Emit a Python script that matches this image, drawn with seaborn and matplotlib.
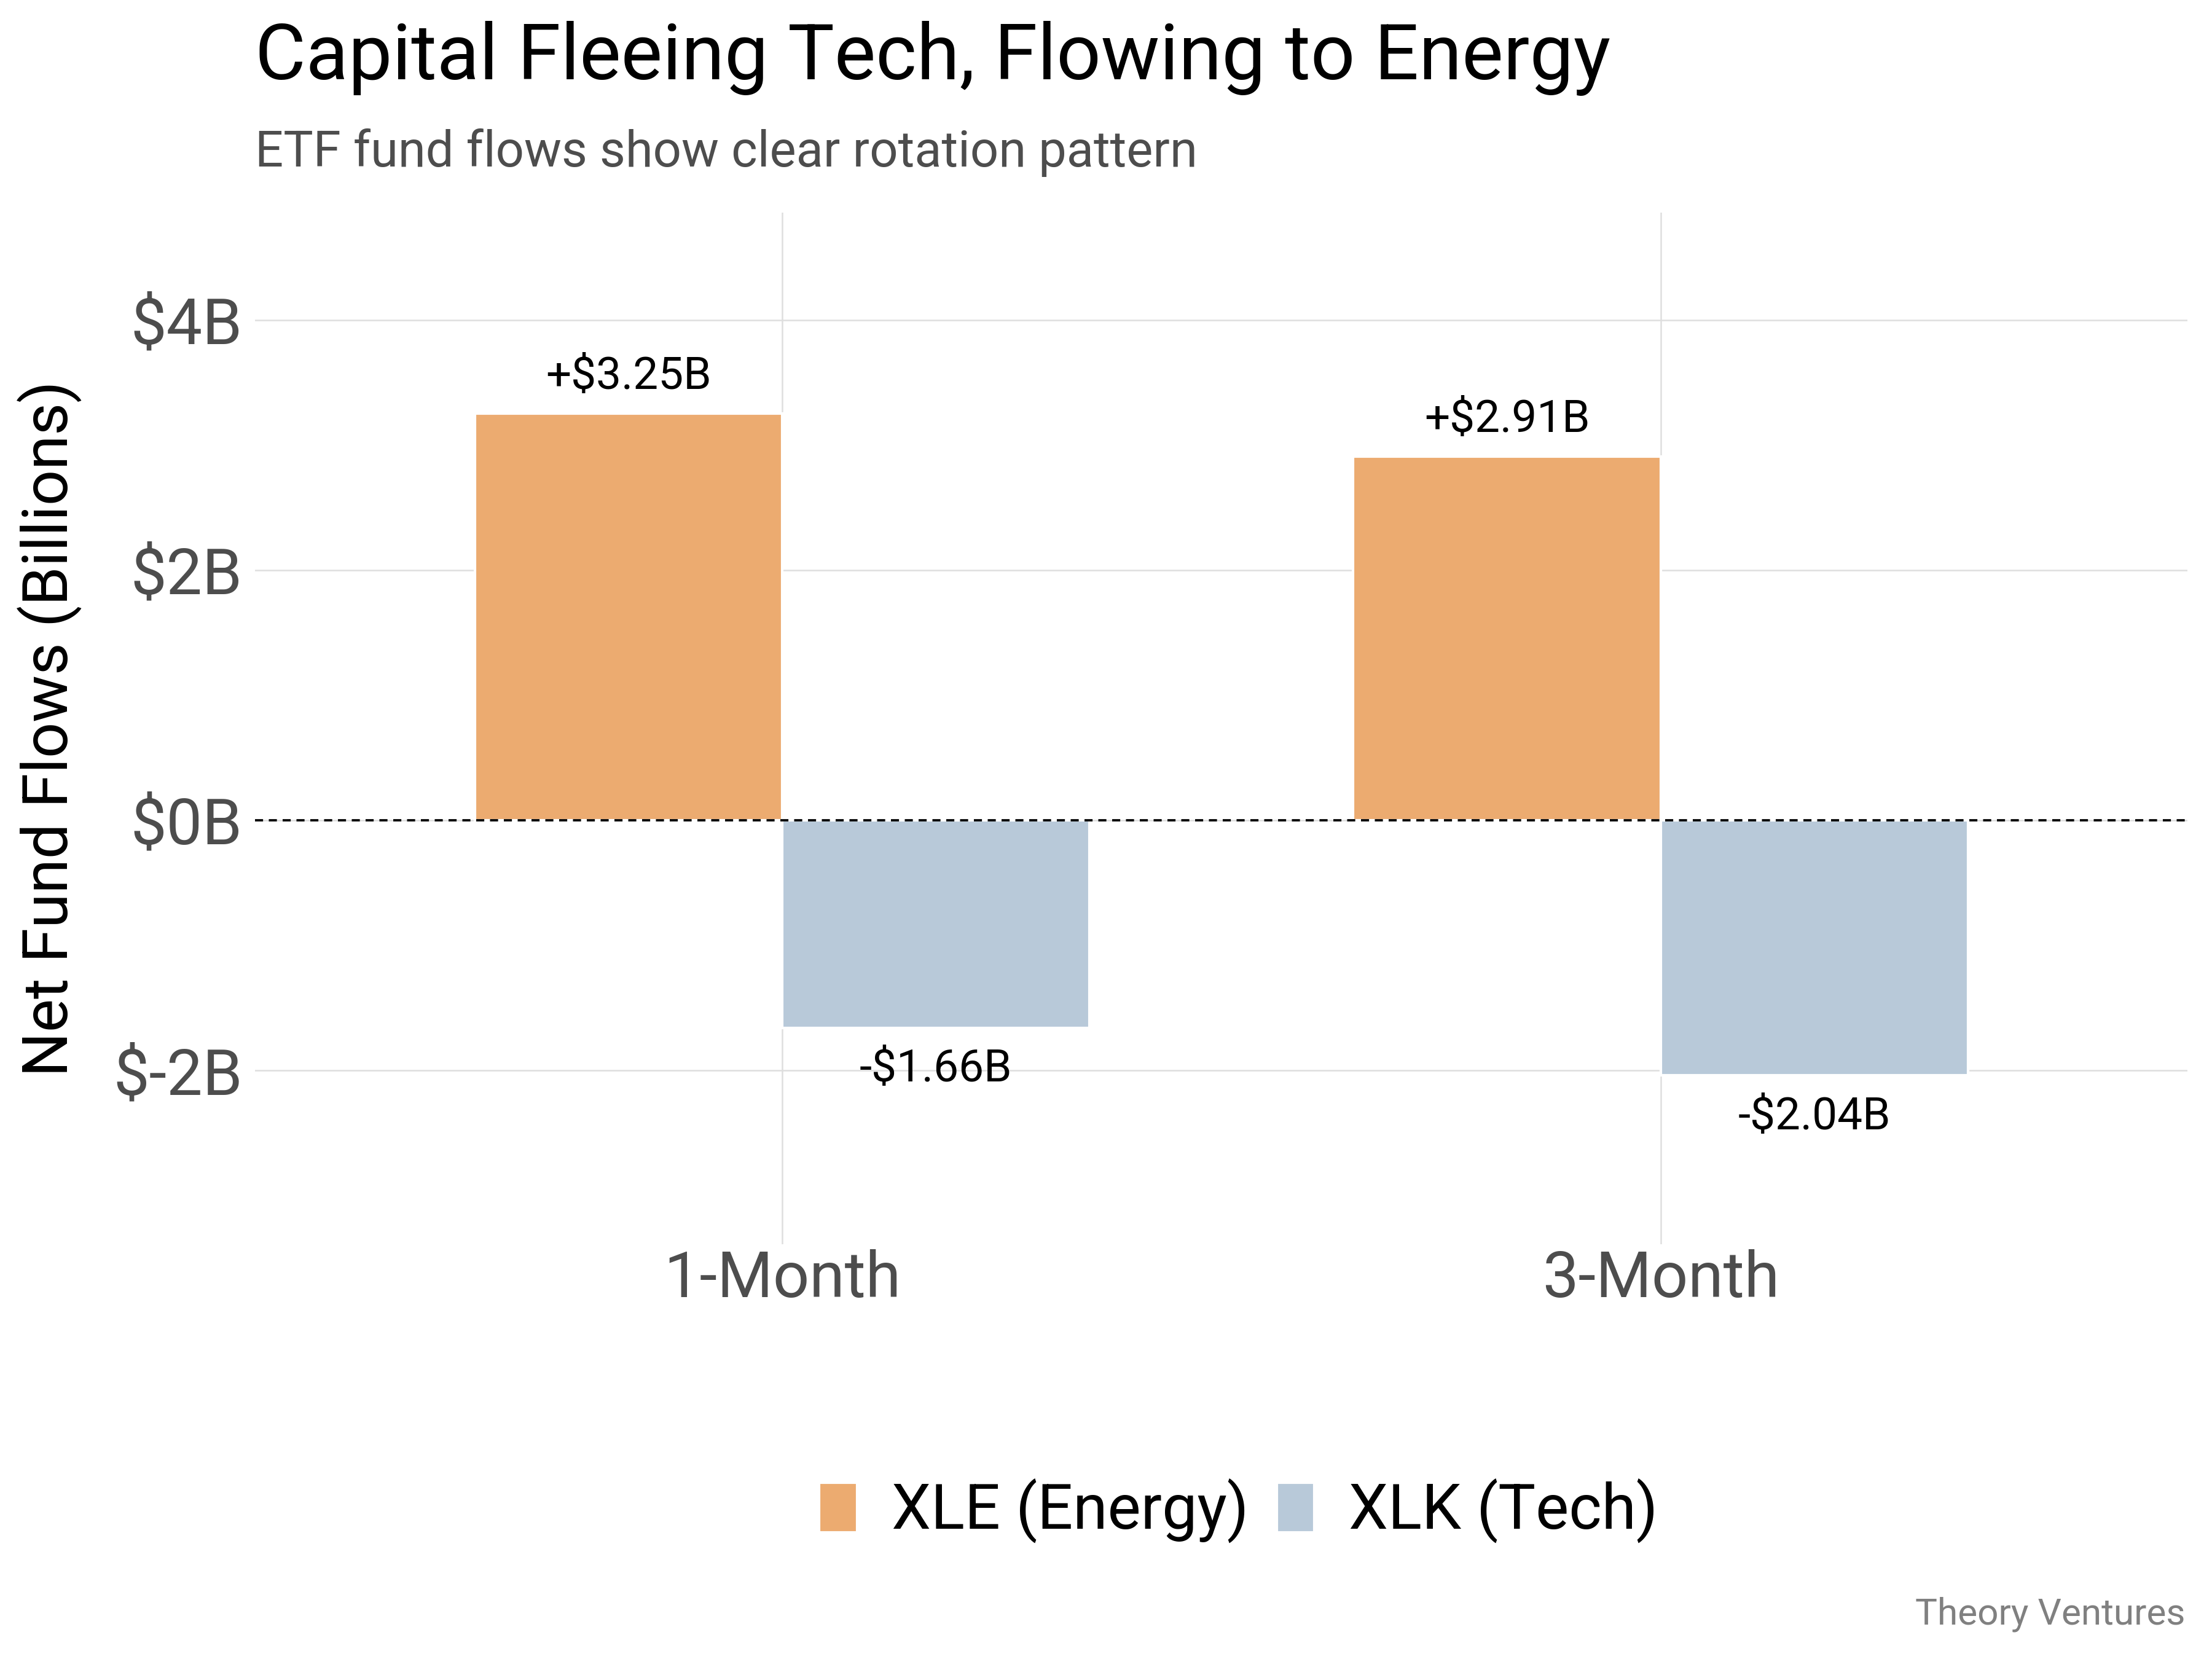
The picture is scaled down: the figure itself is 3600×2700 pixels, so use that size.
import pandas as pd
import matplotlib.pyplot as plt
import seaborn as sns

periods = ["1-Month", "3-Month"]
funds = ["XLE (Energy)", "XLK (Tech)"]
xle_flows = [3.25, 2.91]
xlk_flows = [-1.66, -2.04]
y_ticks = [-2, 0, 2, 4]

colors = ["#ECAB70", "#B8C9D9"]

data = pd.DataFrame({
    "period": periods * 2,
    "fund": [funds[0]] * len(periods) + [funds[1]] * len(periods),
    "flow": xle_flows + xlk_flows,
})

sns.set_theme(style="whitegrid")
plt.rcParams["font.family"] = ["Roboto", "DejaVu Sans"]

fig = plt.figure(figsize=(12, 9), dpi=300)
ax = fig.add_axes([0.1154, 0.250, 0.8736, 0.622])

sns.barplot(
    data=data,
    x="period",
    y="flow",
    hue="fund",
    hue_order=funds,
    palette=colors,
    width=0.7,
    gap=0,
    saturation=1,
    errorbar=None,
    ax=ax,
)

ax.set_xlim(-0.6, 1.6)
ax.set_ylim(-3.39, 4.86)
ax.set_yticks(y_ticks)
ax.set_yticklabels([f"${v}B" for v in y_ticks])
ax.tick_params(axis="both", length=0, labelsize=25, labelcolor="#4d4d4d")
ax.tick_params(axis="x", pad=2)
ax.tick_params(axis="y", pad=5)
ax.grid(True, color="#dedede", linewidth=0.6)
ax.set_axisbelow(True)
for s in ax.spines.values():
    s.set_visible(False)

ax.axhline(0, color="black", linestyle=(0, (3.5, 2.5)), linewidth=0.9)

ax.set_xlabel("")
ax.set_ylabel("Net Fund Flows (Billions)", fontsize=24.5, color="black", labelpad=12)

# value labels
for cont, vals, pad in zip(ax.containers, [xle_flows, xlk_flows], [6, 8]):
    labels = [f"+${v:.2f}B" if v > 0 else f"-${abs(v):.2f}B" for v in vals]
    ax.bar_label(cont, labels=labels, padding=pad, fontsize=17.5, color="black")

handles, labels = ax.get_legend_handles_labels()
ax.get_legend().remove()
fig.legend(
    handles, labels,
    loc="center",
    bbox_to_anchor=(0.560, 0.089),
    ncol=2,
    frameon=False,
    fontsize=24.5,
    labelcolor="black",
    handlelength=0.6,
    handleheight=0.85,
    handletextpad=0.55,
    columnspacing=0.45,
)

fig.text(0.1154, 0.965, "Capital Fleeing Tech, Flowing to Energy",
         fontsize=30.5, color="black", ha="left", va="center")
fig.text(0.1154, 0.908, "ETF fund flows show clear rotation pattern",
         fontsize=19.5, color="#4d4d4d", ha="left", va="center")
fig.text(0.988, 0.027, "Theory Ventures", fontsize=14.5, color="#808080",
         ha="right", va="center")

fig.savefig("out.png", dpi=300)
